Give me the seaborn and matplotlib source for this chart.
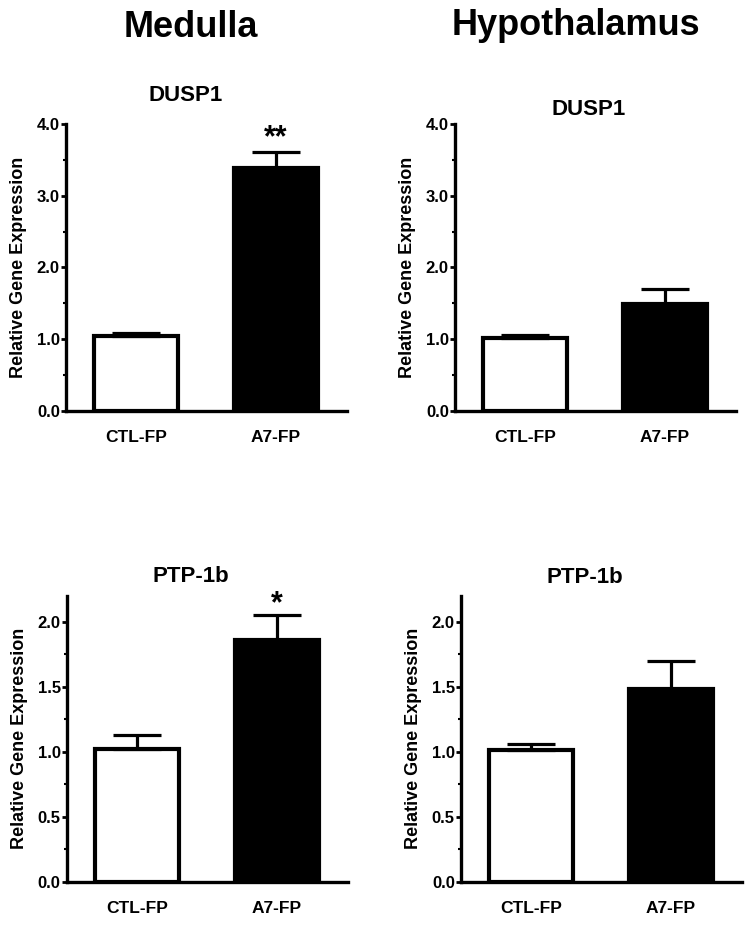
import pandas as pd
import seaborn as sns
import matplotlib
matplotlib.use('Agg')
import matplotlib.pyplot as plt
from matplotlib.ticker import AutoMinorLocator, MultipleLocator

# groups on the x axis
groups = ['CTL-FP', 'A7-FP']

# relative gene expression, mean and SEM
medulla_dusp1 = [1.05, 3.38]
medulla_dusp1_err = [0.04, 0.23]
hypo_dusp1 = [1.02, 1.49]
hypo_dusp1_err = [0.04, 0.21]
medulla_ptp = [1.02, 1.86]
medulla_ptp_err = [0.11, 0.19]
hypo_ptp = [1.01, 1.48]
hypo_ptp_err = [0.05, 0.22]

# significance marks above the A7 bar
medulla_dusp1_sig = '**'
medulla_ptp_sig = '*'


def bar_panel(ax, values, errs, ymax, major, sig=None, sig_y=None):
    df = pd.DataFrame({'group': groups, 'value': values})
    sns.barplot(
        data=df, x='group', y='value', hue='group',
        palette=['white', 'black'], edgecolor='black', linewidth=3,
        width=0.6, errorbar=None, legend=False, ax=ax
    )
    # only the upper half of the error bar, like Prism
    ax.errorbar(
        x=[0, 1], y=values, yerr=[[0, 0], errs], fmt='none',
        ecolor='black', elinewidth=2.3, capsize=17, capthick=2.3, zorder=3
    )
    if sig:
        ax.text(1, sig_y, sig, ha='center', va='center', fontsize=22,
                fontweight='bold', color='black')

    ax.set_xlim(-0.5, 1.51)
    ax.set_ylim(0, ymax)
    ax.yaxis.set_major_locator(MultipleLocator(major))
    ax.yaxis.set_minor_locator(AutoMinorLocator(2))
    ax.yaxis.set_major_formatter(matplotlib.ticker.FormatStrFormatter('%.1f'))

    sns.despine(ax=ax)
    for s in ['left', 'bottom']:
        ax.spines[s].set_linewidth(2.4)
        ax.spines[s].set_color('black')
    ax.tick_params(axis='y', which='both', left=True, direction='out', colors='black')
    ax.tick_params(axis='y', which='major', length=3.5, width=2, labelsize=12, pad=1)
    ax.tick_params(axis='y', which='minor', length=2.5, width=1.5)
    ax.tick_params(axis='x', bottom=False, length=0, labelsize=12.5, pad=14, colors='black')
    for lab in ax.get_xticklabels() + ax.get_yticklabels():
        lab.set_fontweight('bold')
    ax.set_xlabel('')
    ax.set_ylabel('Relative Gene Expression', fontsize=13, fontweight='bold',
                  labelpad=7, color='black')


def main():
    sns.set_style('white')
    plt.rcParams['font.family'] = ['Liberation Sans', 'DejaVu Sans']
    plt.rcParams['text.color'] = 'black'
    plt.rcParams['axes.labelcolor'] = 'black'

    fig = plt.figure(figsize=(7.5, 9.25), dpi=100)

    ax1 = fig.add_axes([0.088, 0.5557, 0.3747, 0.3103])
    ax2 = fig.add_axes([0.6067, 0.5557, 0.3747, 0.3103])
    ax3 = fig.add_axes([0.0893, 0.0465, 0.3747, 0.3097])
    ax4 = fig.add_axes([0.6147, 0.0465, 0.3747, 0.3097])

    bar_panel(ax1, medulla_dusp1, medulla_dusp1_err, 4.0, 1.0, medulla_dusp1_sig, 3.8)
    bar_panel(ax2, hypo_dusp1, hypo_dusp1_err, 4.0, 1.0)
    bar_panel(ax3, medulla_ptp, medulla_ptp_err, 2.2, 0.5, medulla_ptp_sig, 2.13)
    bar_panel(ax4, hypo_ptp, hypo_ptp_err, 2.2, 0.5)

    fig.text(0.2547, 0.96, 'Medulla', ha='center', va='baseline',
             fontsize=26, fontweight='bold')
    fig.text(0.768, 0.962, 'Hypothalamus', ha='center', va='baseline',
             fontsize=26, fontweight='bold')

    fig.text(0.248, 0.8968, 'DUSP1', ha='center', va='center', fontsize=16, fontweight='bold')
    fig.text(0.785, 0.8816, 'DUSP1', ha='center', va='center', fontsize=16, fontweight='bold')
    fig.text(0.255, 0.3768, 'PTP-1b', ha='center', va='center', fontsize=16, fontweight='bold')
    fig.text(0.78, 0.3757, 'PTP-1b', ha='center', va='center', fontsize=16, fontweight='bold')

    fig.savefig('out.png', dpi=100)


if __name__ == '__main__':
    main()
